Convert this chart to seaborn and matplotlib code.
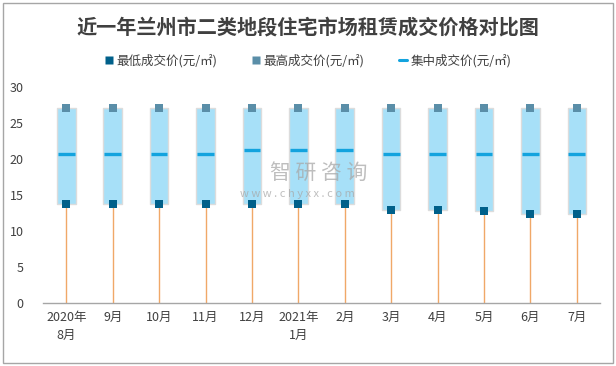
import numpy as np
import pandas as pd
import seaborn as sns
import matplotlib.pyplot as plt
from matplotlib.lines import Line2D
from matplotlib.patches import Rectangle

# --- data ---
months = ['2020年\n8月', '9月', '10月', '11月', '12月', '2021年\n1月',
          '2月', '3月', '4月', '5月', '6月', '7月']
low_price = [13.8, 13.8, 13.8, 13.8, 13.8, 13.8, 13.8, 12.9, 12.9, 12.7, 12.4, 12.4]
high_price = [27, 27, 27, 27, 27, 27, 27, 27, 27, 27, 27, 27]
mid_price = [20.7, 20.7, 20.7, 20.7, 21.2, 21.2, 21.2, 20.7, 20.7, 20.7, 20.7, 20.7]

df = pd.DataFrame({'month': months, 'low': low_price,
                   'high': high_price, 'mid': mid_price})
df['x'] = np.arange(len(df))

sns.set_theme(style='white')
plt.rcParams['font.family'] = ['Noto Sans CJK SC', 'DejaVu Sans']

fig = plt.figure(figsize=(6.16, 3.66), dpi=100)
ax = fig.add_axes([0.070, 0.172, 0.904, 0.591])

c_low = '#00608a'
c_high = '#5a8ea8'
c_mid = '#13a3de'
c_box = '#a7e0f8'
c_stem = '#f0a868'

# stems from 0 to the low price
ax.vlines(df['x'], 0, df['low'], color=c_stem, lw=1, zorder=1)

# boxes from low to high
ax.bar(df['x'], df['high'] - df['low'], bottom=df['low'], width=0.4,
       color=c_box, edgecolor='#dcdcdc', linewidth=1, zorder=2)

# markers
sns.scatterplot(data=df, x='x', y='low', ax=ax, marker='s', s=28,
                color=c_low, linewidth=0, zorder=4, legend=False)
sns.scatterplot(data=df, x='x', y='high', ax=ax, marker='s', s=28,
                color=c_high, linewidth=0, zorder=4, legend=False)
ax.hlines(df['mid'], df['x'] - 0.18, df['x'] + 0.18, color=c_mid, lw=2.4, zorder=3)

ax.set_xlim(-0.5, len(df) - 0.5)
ax.set_ylim(0, 30)
ax.set_yticks(range(0, 31, 5))
ax.set_xticks(df['x'])
ax.set_xticklabels(df['month'], fontsize=9, color='#404040', linespacing=1.5)
ax.tick_params(axis='y', labelsize=9, labelcolor='#404040', length=0, pad=14)
ax.tick_params(axis='x', length=0, pad=6)
ax.set_xlabel('')
ax.set_ylabel('')
for s in ['top', 'right', 'left']:
    ax.spines[s].set_visible(False)
ax.spines['bottom'].set_color('#a6a6a6')
ax.spines['bottom'].set_linewidth(1)

# watermark
fig.text(0.438, 0.527, '智 研 咨 询', fontsize=15, color='#a8a8a8', alpha=0.75,
         ha='left', va='center')
fig.text(0.389, 0.470, 'w w w . c h y x x . c o m', fontsize=8, color='#a8a8a8',
         alpha=0.75, ha='left', va='center')

fig.text(0.5, 0.926, '近一年兰州市二类地段住宅市场租赁成交价格对比图',
         fontsize=14.5, fontweight='bold', color='#404040', ha='center', va='center')

handles = [
    Line2D([], [], marker='s', color='none', markerfacecolor=c_low,
           markeredgecolor='none', markersize=6),
    Line2D([], [], marker='s', color='none', markerfacecolor=c_high,
           markeredgecolor='none', markersize=6),
    Line2D([], [], color=c_mid, lw=2.2),
]
labels = ['最低成交价(元/㎡)', '最高成交价(元/㎡)', '集中成交价(元/㎡)']
fig.legend(handles, labels, loc='center', bbox_to_anchor=(0.5, 0.833), ncol=3,
           frameon=False, fontsize=9, handlelength=0.6, handletextpad=0.3,
           columnspacing=2.8, labelcolor='#404040')

fig.add_artist(Rectangle((0.005, 0.008), 0.99, 0.984, transform=fig.transFigure,
                         fill=False, edgecolor='#a6a6a6', lw=1))

fig.savefig('out.png', dpi=100)
